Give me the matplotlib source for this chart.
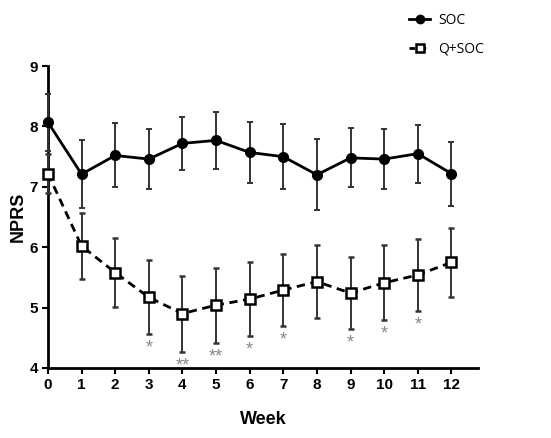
import matplotlib
matplotlib.use('Agg')
import matplotlib.pyplot as plt
from matplotlib.lines import Line2D
from matplotlib.ticker import MultipleLocator

plt.rcParams['font.family'] = ['Liberation Sans', 'DejaVu Sans']

# weekly NPRS means and SDs
weeks = [0, 1, 2, 3, 4, 5, 6, 7, 8, 9, 10, 11, 12]
soc_mean = [8.07, 7.21, 7.52, 7.46, 7.72, 7.77, 7.57, 7.50, 7.20, 7.48, 7.46, 7.55, 7.22]
soc_sd = [0.47, 0.56, 0.53, 0.50, 0.44, 0.47, 0.50, 0.54, 0.59, 0.49, 0.50, 0.48, 0.53]
qsoc_mean = [7.22, 6.02, 5.58, 5.17, 4.90, 5.04, 5.14, 5.29, 5.43, 5.24, 5.41, 5.54, 5.75]
qsoc_sd = [0.32, 0.55, 0.57, 0.61, 0.63, 0.62, 0.61, 0.60, 0.61, 0.59, 0.62, 0.60, 0.57]
# significance marks
sig = {3: '*', 4: '**', 5: '**', 6: '*', 7: '*', 9: '*', 10: '*', 11: '*'}

fig = plt.figure(figsize=(5.51, 4.38), dpi=100)
ax = fig.add_axes([0.087, 0.16, 0.781, 0.689])

soc_style = dict(color='black', lw=2, marker='o', ms=7)
qsoc_style = dict(color='black', lw=2, ls=(0, (3, 2)), marker='s', ms=7.5,
                  mfc='white', mew=1.8)

ax.errorbar(weeks, soc_mean, yerr=soc_sd, ecolor='#333333', elinewidth=1.4,
            capsize=2.5, capthick=1.4, clip_on=False, zorder=3, **soc_style)
ax.errorbar(weeks, qsoc_mean, yerr=qsoc_sd, ecolor='#333333', elinewidth=1.4,
            capsize=2.5, capthick=1.4, clip_on=False, zorder=3, **qsoc_style)

for w, s in sig.items():
    i = weeks.index(w)
    ax.annotate(s, (w, qsoc_mean[i] - qsoc_sd[i]), xytext=(0, -4),
                textcoords='offset points', ha='center', va='top',
                fontsize=13, color='#888888')

ax.set_xlim(0, 12.8)
ax.set_ylim(4, 9)
ax.set_xticks(weeks)
ax.yaxis.set_major_locator(MultipleLocator(1))
for sp in ['top', 'right']:
    ax.spines[sp].set_visible(False)
for sp in ['left', 'bottom']:
    ax.spines[sp].set_linewidth(2)
ax.tick_params(width=1.5, length=4, labelsize=11, pad=3)
for lab in ax.get_xticklabels() + ax.get_yticklabels():
    lab.set_fontweight('bold')

ax.set_xlabel('Week', fontsize=13, fontweight='bold', labelpad=14)
ax.set_ylabel('NPRS', fontsize=13, fontweight='bold', labelpad=2)

handles = [Line2D([], [], **dict(soc_style, ms=6)),
           Line2D([], [], **dict(qsoc_style, ms=6, ls=(0, (2, 2))))]
leg = fig.legend(handles, ['SOC', 'Q+SOC'], loc='upper left',
                 bbox_to_anchor=(0.72, 1.0), frameon=False, fontsize=10,
                 handlelength=1.5, labelspacing=1.0, handletextpad=0.6)
for t in leg.get_texts():
    t.set_fontfamily(['Open Sans', 'DejaVu Sans'])

fig.savefig('out.png', dpi=100)
